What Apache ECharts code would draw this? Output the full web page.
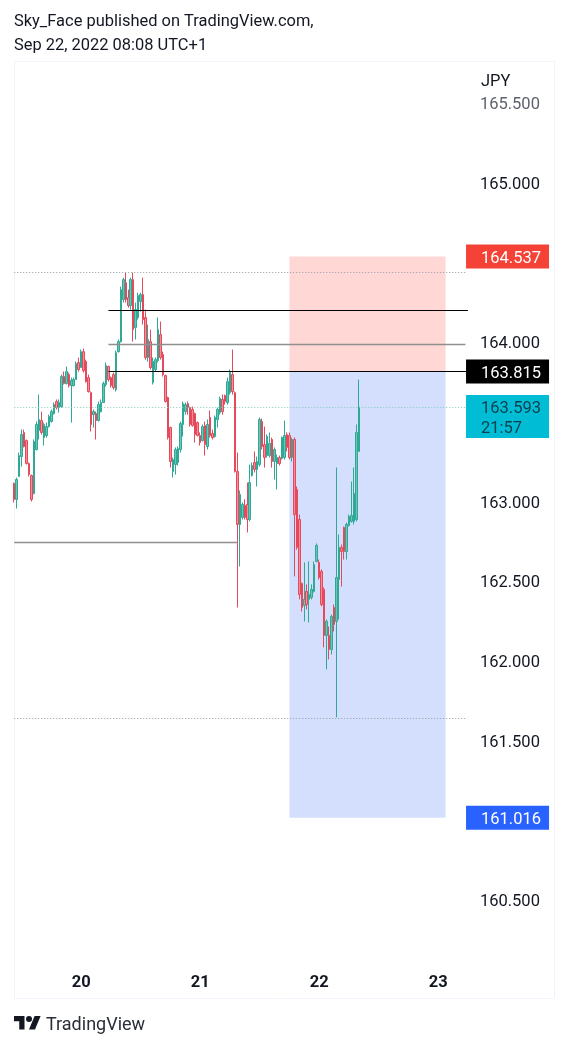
<!DOCTYPE html>
<html><head><meta charset="utf-8">
<style>html,body{margin:0;padding:0;background:#fff}#c{width:569px;height:1047px}</style>
<script src="https://cdn.jsdelivr.net/npm/echarts@6/dist/echarts.min.js"></script>
</head><body><div id="c"></div>
<script>
// Each candle: [open, close, low, high]
const barsSep19 = [
[163.113,163.013,162.994,163.119],[163.013,163.138,162.956,163.150],[163.157,163.288,163.157,163.307],[163.282,163.420,163.219,163.451],
[163.433,163.345,163.339,163.451],[163.382,163.238,163.232,163.389],[163.238,163.169,163.157,163.245],[163.163,163.013,163.000,163.169],
[163.050,163.376,163.044,163.389],[163.326,163.483,163.320,163.502],[163.445,163.514,163.389,163.671],[163.508,163.433,163.420,163.564],
[163.401,163.483,163.351,163.495],[163.414,163.470,163.401,163.495],[163.470,163.533,163.464,163.545],[163.502,163.564,163.495,163.577],
[163.552,163.608,163.545,163.621],[163.627,163.589,163.577,163.640],[163.589,163.621,163.558,163.640],[163.596,163.784,163.589,163.796],
[163.784,163.740,163.734,163.815],[163.740,163.815,163.734,163.847],[163.796,163.727,163.715,163.809],[163.727,163.759,163.495,163.777],
[163.727,163.765,163.721,163.777],[163.765,163.865,163.765,163.878],[163.872,163.828,163.815,163.903]];
const barsSep20 = [
[163.840,163.940,163.840,163.953],[163.940,163.821,163.809,163.959],[163.878,163.752,163.746,163.890],[163.777,163.690,163.683,163.796],
[163.683,163.483,163.439,163.690],[163.545,163.564,163.464,163.577],[163.552,163.508,163.389,163.564],[163.508,163.608,163.502,163.627],
[163.564,163.621,163.558,163.640],[163.621,163.740,163.621,163.752],[163.734,163.853,163.721,163.872],[163.847,163.765,163.752,163.853],
[163.777,163.727,163.715,163.784],[163.796,163.715,163.702,163.809],[163.702,163.934,163.690,163.947],[163.940,164.003,163.934,164.016],
[164.003,164.329,163.997,164.348],[164.267,164.392,164.248,164.404],[164.373,164.267,164.248,164.436],[164.279,164.229,164.216,164.329],
[164.229,164.392,164.204,164.404],[164.392,164.078,164.003,164.436],[164.091,164.204,164.016,164.248],[164.154,164.292,164.141,164.310],
[164.254,164.298,164.191,164.310],[164.298,164.141,164.110,164.404],[164.154,163.903,163.890,164.204],[163.903,164.016,163.878,164.110],
[164.003,163.840,163.828,164.078],[163.746,163.878,163.734,163.903],[163.828,163.890,163.815,163.903],[163.884,164.078,163.872,164.154],
[164.047,163.903,163.890,164.129],[163.922,163.796,163.784,163.940],[163.790,163.627,163.621,163.796],[163.652,163.401,163.389,163.658],
[163.464,163.251,163.213,163.470],[163.188,163.263,163.150,163.276],[163.232,163.326,163.169,163.339],[163.245,163.332,163.226,163.345],
[163.326,163.489,163.307,163.502],[163.483,163.614,163.408,163.627],[163.564,163.608,163.545,163.621],[163.614,163.589,163.545,163.627],
[163.589,163.483,163.470,163.596],[163.577,163.476,163.470,163.596],[163.552,163.420,163.370,163.558],[163.495,163.414,163.408,163.502]];
const barsSep21 = [
[163.414,163.370,163.351,163.433],[163.382,163.470,163.376,163.483],[163.476,163.357,163.288,163.502],[163.345,163.483,163.326,163.514],
[163.527,163.414,163.401,163.571],[163.426,163.401,163.389,163.451],[163.408,163.527,163.401,163.539],[163.514,163.577,163.464,163.589],
[163.558,163.646,163.545,163.658],[163.640,163.564,163.545,163.671],[163.665,163.627,163.608,163.671],[163.621,163.752,163.608,163.777],
[163.683,163.809,163.671,163.828],[163.796,163.690,163.671,163.953],[163.683,163.188,163.182,163.690],[163.188,162.856,162.335,163.307],
[162.856,163.044,162.592,163.069],[162.900,162.981,162.887,162.994],[162.975,162.900,162.887,163.013],[162.981,162.887,162.806,163.119],
[162.887,163.119,162.875,163.232],[163.163,163.226,163.157,163.245],[163.245,163.201,163.182,163.314],[163.201,163.251,163.094,163.282],
[163.232,163.514,163.219,163.527],[163.502,163.345,163.326,163.520],[163.357,163.276,163.213,163.470],[163.288,163.408,163.276,163.420],
[163.288,163.364,163.276,163.433],[163.389,163.251,163.213,163.401],[163.251,163.326,163.138,163.339],[163.238,163.276,163.075,163.295],
[163.276,163.238,163.226,163.288],[163.270,163.401,163.263,163.408],[163.276,163.414,163.263,163.508],[163.420,163.339,163.314,163.433],
[163.414,163.276,163.263,163.433],[163.276,163.389,163.251,163.401],[163.389,162.918,162.530,163.401],[163.075,162.712,162.699,163.094],
[162.887,162.417,162.386,162.918],[162.486,162.335,162.310,162.492],[162.348,162.386,162.248,162.618],[162.436,162.354,162.323,162.480],
[162.386,162.417,162.241,162.624],[162.398,162.448,162.386,162.480],[162.436,162.605,162.429,162.624],[162.624,162.724,162.618,162.737]];
const barsSep22 = [
[162.618,162.523,162.511,162.636],[162.561,162.354,162.342,162.574],[162.448,162.160,162.085,162.461],[162.160,162.248,161.947,162.260],
[162.160,162.072,162.009,162.216],[162.072,162.279,162.041,162.291],[162.335,162.229,162.185,162.354],[162.248,162.523,161.646,163.213],
[162.511,162.712,162.260,162.793],[162.712,162.686,162.467,162.730],[162.837,162.686,162.636,162.843],[162.686,162.856,162.636,162.868],
[162.850,162.906,162.843,162.918],[162.875,162.912,162.868,163.125],[162.875,163.050,162.856,163.213],[162.887,163.433,162.875,163.483],
[163.314,163.593,163.314,163.765]];

const slotCount = 218;                       // half-hour slots across the pane, future included
const daySlots = {27:'20', 75:'21', 123:'22', 171:'23'};
const hiddenTicks = ['164.500','163.500','161.000'];  // covered by price tags in the source
const fadedTicks = ['165.500'];

const boxRight = 174, boxLeft = 111;
const tpPrice = 164.537, entryPrice = 163.815, lastPrice = 163.593, stopPrice = 161.016;

// [fromSlot, toSlot, price]
const blackLevels = [[38,183,164.197],[38,183,entryPrice]];
const grayLevels  = [[38,182,163.985],[0,90,162.745]];
const dottedGray  = [[0,182,164.44],[0,182,161.64]];
const dottedTeal  = [[0,182,lastPrice]];

const tagSlot = 199;
const tags = [
  {price:tpPrice,   text:'164.537',        bg:'#f44336', fg:'#ffffff', h:24, shift:0},
  {price:entryPrice,text:'163.815',        bg:'#000000', fg:'#ffffff', h:24, shift:0},
  {price:lastPrice, text:'163.593\n21:57', bg:'#00bcd4', fg:'#0d3f4c', h:43, shift:9.5},
  {price:stopPrice, text:'161.016',        bg:'#2962ff', fg:'#ffffff', h:24, shift:0}
];

const FONT = 'Roboto';
const candles = [...barsSep19, ...barsSep20, ...barsSep21, ...barsSep22];
const categories = Array.from({length:slotCount}, (_,i)=>String(i));

function segs(list, style){
  return list.map(([a,b,p])=>[{coord:[a,p],lineStyle:style,symbol:'none'},{coord:[b,p],symbol:'none'}]);
}

const chart = echarts.init(document.getElementById('c'), null, {renderer:'canvas'});
chart.setOption({
  animation:false,
  backgroundColor:'#ffffff',
  textStyle:{fontFamily:FONT},
  grid:{left:13, top:103, width:540.4, height:797, containLabel:false},
  xAxis:{
    type:'category', data:categories, boundaryGap:true,
    axisLine:{show:false}, axisTick:{show:false}, splitLine:{show:false},
    axisLabel:{interval:0, margin:74.5, fontFamily:FONT, fontSize:16.5, fontWeight:'bold', color:'#131722',
      formatter:(v)=>daySlots[v]||''}
  },
  yAxis:{
    type:'value', position:'right', min:160.5, max:165.5, interval:0.5, scale:true,
    axisLine:{show:false}, axisTick:{show:false}, splitLine:{show:false},
    axisLabel:{inside:true, margin:13.5, fontFamily:FONT, fontSize:16.5,
      rich:{
        t:{fontFamily:FONT, fontSize:16.5, color:'#131722', padding:[4,0,0,0]},
        f:{fontFamily:FONT, fontSize:16.5, color:'#5f626d', padding:[4,0,0,0]}
      },
      formatter:(v)=>{
        const s=(+v).toFixed(3);
        if(hiddenTicks.includes(s)) return '';
        return (fadedTicks.includes(s)?'{f|':'{t|')+s+'}';
      }}
  },
  series:[{
    type:'candlestick', data:candles, barWidth:2, z:3,
    itemStyle:{color:'#6cc4b5', color0:'#f48d98', borderColor:'#2fa896', borderColor0:'#e5495c', borderWidth:1},
    markArea:{silent:true, z:1, data:[
      [{coord:[boxLeft,tpPrice],itemStyle:{color:'#ffd8d5'}},{coord:[boxRight,entryPrice]}],
      [{coord:[boxLeft,entryPrice],itemStyle:{color:'#d3dffc'}},{coord:[boxRight,stopPrice]}]
    ]},
    markLine:{silent:true, symbol:'none', label:{show:false}, animation:false, precision:3, z:5, data:[
      ...segs(blackLevels,{color:'#000000',width:1,type:'solid'}),
      ...segs(grayLevels,{color:'#8f8f8f',width:1.4,type:'solid'}),
      ...segs(dottedGray,{color:'#9598a1',width:1,type:[1,2]}),
      ...segs(dottedTeal,{color:'#7fcabd',width:1,type:[1,2]})
    ]},
    markPoint:{silent:true, z:6, data:tags.map(t=>({
      coord:[tagSlot,t.price], symbol:'rect', symbolSize:[83,t.h], symbolOffset:[0,t.shift],
      itemStyle:{color:t.bg},
      label:{show:true, formatter:t.text, position:'inside', align:'left', offset:[-26.5,2],
        fontFamily:FONT, fontSize:16.5, lineHeight:20, color:t.fg}
    }))}
  }],
  graphic:[
    {type:'rect', silent:true, z:-1, shape:{x:14.5,y:61.5,width:540,height:937}, style:{fill:null,stroke:'#f0f3fa',lineWidth:1}},
    {type:'text', silent:true, x:14, y:14, style:{text:'Sky_Face published on TradingView.com,',fontFamily:FONT,fontSize:16.45,fill:'#131722'}},
    {type:'text', silent:true, x:14, y:38, style:{text:'Sep 22, 2022 08:08 UTC+1',fontFamily:FONT,fontSize:16.45,fill:'#131722'}},
    {type:'text', silent:true, x:481, y:73, style:{text:'JPY',fontFamily:FONT,fontSize:16.5,fill:'#131722'}},
    {type:'polygon', silent:true, shape:{points:[[14,1016],[24.5,1016],[24.5,1029.5],[19.25,1029.5],[19.25,1021.25],[14,1021.25]]}, style:{fill:'#131722'}},
    {type:'polygon', silent:true, shape:{points:[[29,1029.5],[34.6,1016],[40.6,1016],[35,1029.5]]}, style:{fill:'#131722'}},
    {type:'circle', silent:true, shape:{cx:29,cy:1019,r:3}, style:{fill:'#131722'}},
    {type:'text', silent:true, x:46, y:1016, style:{text:'TradingView',fontFamily:FONT,fontSize:18,fill:'#2a2e39'}}
  ]
});
</script></body></html>
